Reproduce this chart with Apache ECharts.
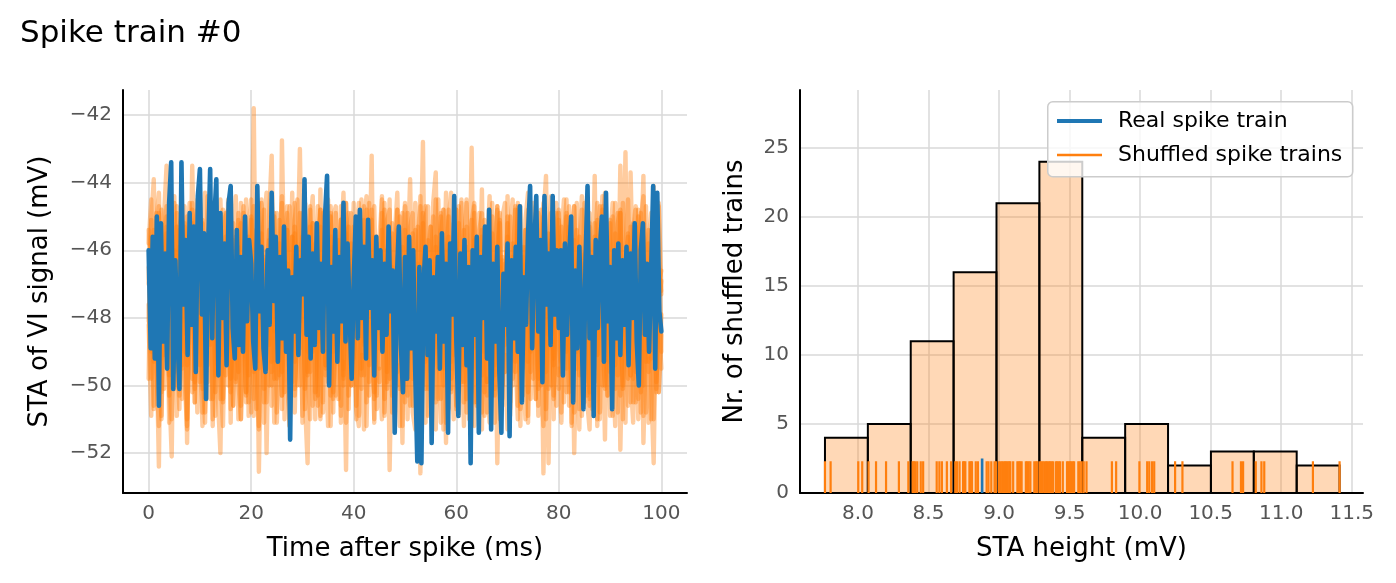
<!DOCTYPE html>
<html><head><meta charset="utf-8">
<script src="https://cdn.jsdelivr.net/npm/echarts@6/dist/echarts.min.js"></script>
<style>html,body{margin:0;padding:0;background:#fff}#c{width:1396px;height:583px}</style>
</head><body><div id="c"></div>
<script>
// ---------- data ----------
const realDt = 0.4;   // ms between samples, real trace
const shufDt = 0.5;   // ms between samples, shuffled traces
const realTrace = [
-46.0,-48.9,-45.6,-49.2,-45.0,-50.6,-45.2,-48.7,-46.1,-49.5,-44.6,-43.4,-50.1,-46.3,-48.4,-50.1,-43.4,-47.6,-45.7,-49.1,-44.9,-48.2,-45.3,-49.6,-44.4,
-43.6,-47.9,-45.5,-50.4,-46.0,-43.6,-48.6,-45.1,-43.9,-49.7,-44.9,-48.0,-45.8,-49.4,-44.6,-44.1,-48.3,-49.2,-45.4,-48.8,-46.2,-49.0,-45.0,-48.1,-45.7,
-46.4,-48.7,-49.5,-44.1,-47.8,-45.9,-48.9,-49.6,-46.0,-48.2,-44.3,-47.5,-45.6,-49.3,-46.2,-48.6,-45.3,-49.0,-46.6,-51.6,-46.8,-48.4,-45.9,-49.1,-46.3,
-47.3,-43.9,-48.5,-45.6,-49.2,-46.1,-48.8,-45.2,-48.3,-46.4,-49.0,-45.0,-43.8,-50.0,-46.5,-48.4,-45.4,-49.3,-46.2,-48.1,-44.6,-48.7,-45.8,-47.9,-49.8,
-46.9,-45.0,-48.6,-44.8,-48.0,-45.9,-49.2,-45.1,-47.7,-46.3,-49.7,-45.6,-48.3,-46.0,-49.0,-46.4,-48.5,-45.3,-47.8,-46.6,-51.4,-46.9,-45.3,-48.8,-50.2,
-46.2,-49.8,-45.6,-48.9,-46.0,-49.6,-52.25,-46.5,-52.3,-47.0,-45.9,-49.1,-46.3,-51.7,-46.8,-48.4,-46.2,-49.5,-45.5,-48.7,-46.4,-51.4,-45.8,-47.9,-44.4,
-48.6,-50.9,-46.1,-48.8,-45.7,-49.4,-46.5,-52.3,-46.0,-48.5,-45.6,-51.4,-46.2,-48.0,-45.3,-49.2,-44.8,-51.3,-46.4,-48.7,-45.9,-49.6,-51.4,-46.7,-48.2,
-45.8,-51.5,-46.3,-48.6,-45.9,-49.0,-44.7,-50.5,-46.8,-48.2,-45.5,-44.1,-48.9,-46.0,-44.4,-48.4,-45.7,-49.9,-44.4,-47.6,-46.1,-48.8,-44.4,-47.9,-46.0,
-48.3,-46.0,-49.7,-45.8,-48.5,-46.3,-45.0,-50.5,-46.6,-48.9,-45.9,-48.0,-50.7,-46.4,-44.1,-48.6,-46.2,-50.9,-45.7,-48.3,-46.0,-45.0,-49.3,-44.3,-48.1,
-46.5,-50.7,-46.0,-48.6,-45.8,-49.1,-46.3,-48.2,-45.9,-49.4,-46.1,-48.0,-45.2,-48.7,-50.0,-46.0,-45.2,-48.5,-46.4,-49.0,-46.7,-44.1,-49.5,-44.3,-47.8,-48.4
];
const shuffledA = [
-47.0,-45.2,-43.9,-48.6,-46.1,-49.2,-45.0,-43.5,-48.0,-46.4,-50.1,-45.3,-47.7,-44.6,-49.0,-46.2,-48.3,-43.5,-47.1,-45.8,
-49.4,-45.1,-47.9,-44.4,-48.8,-46.0,-50.2,-45.5,-47.3,-44.8,-48.5,-46.7,-49.8,-45.2,-47.6,-44.9,-48.9,-46.3,-50.5,-45.6,
-47.8,-41.8,-49.1,-45.7,-48.0,-46.2,-49.5,-45.0,-43.2,-48.4,-46.1,-49.7,-42.75,-47.2,-45.4,-48.6,-44.3,-49.3,-46.5,-43.0,
-48.1,-45.9,-49.6,-44.7,-47.5,-46.0,-50.3,-44.2,-48.2,-45.5,-47.9,-44.9,-49.0,-46.4,-48.5,-45.1,-50.0,-44.6,-47.4,-45.8,
-49.2,-45.3,-47.7,-44.5,-48.8,-46.2,-47.1,-43.2,-49.5,-45.6,-48.2,-44.4,-47.6,-46.0,-49.8,-45.2,-48.4,-44.8,-47.3,-45.9,
-49.0,-46.3,-43.9,-48.7,-45.4,-47.8,-46.6,-42.8,-49.3,-45.7,-48.1,-44.6,-43.7,-49.5,-46.2,-48.0,-44.3,-47.5,-45.8,-49.1,
-46.0,-48.6,-44.5,-49.4,-45.9,-47.7,-42.97,-48.9,-45.6,-47.3,-44.2,-49.0,-46.1,-48.3,-45.0,-50.1,-44.7,-47.9,-46.3,-48.8,
-44.4,-47.6,-45.8,-49.3,-44.6,-48.1,-46.2,-47.4,-44.8,-49.6,-45.5,-48.0,-46.6,-50.0,-45.1,-43.8,-48.5,-46.0,-49.2,-44.9,
-47.7,-45.6,-44.5,-49.0,-46.3,-48.2,-44.7,-47.5,-45.9,-49.4,-46.1,-48.6,-45.2,-47.8,-43.8,-49.1,-46.4,-44.4,-48.3,-45.7,
-49.6,-46.0,-44.6,-48.1,-43.5,-47.4,-43.1,-49.0,-43.7,-47.2,-45.3,-48.5,-46.2,-43.8,-49.3,-45.8,-47.6,-44.1,-48.9,-46.5,
-47.3
];
const shuffledB = [
-47.6,-49.8,-46.3,-48.4,-52.4,-45.9,-49.1,-46.7,-50.0,-52.1,-46.0,-48.7,-45.4,-49.5,-46.9,-51.7,-47.2,-45.8,-49.9,-46.5,
-48.9,-51.2,-46.1,-49.4,-45.7,-48.2,-46.8,-50.3,-52.0,-47.0,-45.6,-49.0,-46.4,-50.6,-47.3,-45.9,-51.0,-48.1,-46.6,-49.7,
-47.1,-50.4,-45.8,-52.55,-48.0,-46.3,-52.0,-47.5,-49.6,-45.9,-51.1,-48.3,-46.7,-50.2,-47.0,-49.4,-45.6,-50.8,-47.4,-48.9,
-46.2,-50.5,-52.3,-47.3,-49.0,-45.8,-48.6,-51.0,-46.9,-49.7,-47.4,-50.3,-45.9,-48.8,-46.5,-50.9,-47.8,-52.5,-46.4,-49.2,
-47.0,-50.7,-51.2,-46.6,-48.7,-45.8,-49.9,-47.5,-51.0,-46.2,-48.9,-47.3,-50.4,-46.0,-52.5,-48.1,-46.8,-50.0,-47.4,-51.7,
-46.5,-49.3,-47.0,-50.8,-51.3,-46.4,-52.6,-48.5,-46.9,-50.1,-47.6,-49.0,-45.9,-48.7,-51.1,-47.2,-51.7,-46.6,-49.5,-47.8,
-50.6,-46.3,-48.8,-51.2,-47.0,-49.4,-46.1,-50.5,-47.7,-48.6,-51.3,-46.8,-49.9,-47.2,-50.3,-46.5,-52.3,-48.0,-46.9,-49.6,
-47.4,-50.7,-46.2,-48.9,-51.0,-47.1,-49.5,-46.4,-50.2,-47.6,-48.8,-46.0,-49.8,-47.3,-52.6,-47.9,-52.3,-46.7,-49.4,-47.5,
-50.1,-46.3,-48.5,-47.0,-50.6,-46.8,-52.0,-48.2,-47.4,-49.7,-46.1,-50.4,-51.3,-47.2,-49.0,-46.6,-50.8,-47.8,-51.6,-46.9,
-49.3,-47.5,-50.1,-46.4,-51.9,-48.0,-47.1,-49.8,-46.7,-50.5,-47.9,-51.0,-46.3,-51.7,-48.6,-47.0,-49.9,-52.3,-47.4,-50.2,
-48.5
];
const shuffledC = [
-48.1,-45.6,-49.3,-46.8,-44.9,-50.2,-47.0,-45.3,-48.9,-46.1,-49.6,-44.7,-47.8,-50.4,-46.3,-45.0,-48.7,-49.8,-46.6,-44.5,
-47.5,-50.1,-45.8,-48.3,-46.9,-44.6,-49.7,-47.2,-45.4,-50.5,-46.7,-48.8,-44.8,-47.9,-49.9,-46.0,-45.2,-48.6,-50.2,-46.4,
-45.1,-48.0,-50.7,-46.2,-44.5,-49.2,-47.4,-45.7,-50.0,-46.9,-44.9,-48.5,-49.6,-46.3,-45.4,-50.4,-47.8,-44.6,-49.0,-46.8,
-45.6,-50.1,-47.1,-44.8,-48.9,-46.5,-50.6,-45.3,-47.7,-49.4,-46.0,-44.7,-48.2,-50.3,-46.6,-45.1,-49.5,-47.2,-44.9,-48.4,
-50.0,-46.4,-45.2,-48.8,-49.7,-46.1,-44.6,-47.9,-50.2,-45.8,-48.3,-46.7,-44.8,-49.9,-47.1,-45.5,-50.5,-46.2,-48.6,-44.9,
-47.4,-50.3,-45.7,-48.1,-49.6,-46.3,-44.7,-48.9,-50.1,-46.0,-45.3,-49.2,-47.5,-44.5,-48.4,-50.0,-46.6,-45.0,-49.3,-47.0,
-44.8,-49.9,-47.6,-45.4,-50.4,-46.5,-48.2,-44.9,-49.5,-47.1,-45.6,-50.2,-46.0,-48.7,-44.6,-49.4,-47.3,-45.2,-50.0,-46.4,
-48.5,-45.0,-49.8,-46.9,-44.7,-48.3,-50.3,-45.9,-47.4,-49.0,-45.3,-46.8,-50.1,-44.8,-48.0,-49.6,-46.2,-45.5,-50.4,-47.0,
-45.1,-49.3,-46.6,-44.9,-48.8,-50.0,-46.0,-45.4,-49.7,-47.3,-44.6,-48.4,-50.2,-46.5,-45.2,-49.1,-47.6,-44.7,-48.9,-50.3,
-46.2,-45.0,-49.4,-47.7,-44.9,-50.1,-46.4,-48.2,-45.3,-49.8,-47.0,-44.8,-48.6,-50.0,-46.1,-45.4,-49.2,-47.5,-45.7,-50.2,
-47.9
];
const shuffledD = [
-46.5,-49.0,-45.4,-47.9,-50.3,-44.8,-48.5,-46.2,-49.7,-45.1,-47.3,-50.0,-45.9,-48.1,-44.7,-49.4,-46.8,-45.2,-50.1,-47.6,
-45.0,-48.7,-49.9,-46.1,-44.8,-50.4,-47.0,-45.6,-49.1,-46.6,-44.9,-48.0,-50.2,-45.7,-47.8,-49.6,-44.6,-46.9,-48.4,-50.5,
-46.0,-44.7,-49.3,-47.6,-45.5,-50.1,-46.4,-48.8,-44.5,-49.8,-47.2,-45.8,-50.3,-46.3,-44.9,-48.6,-49.9,-45.3,-47.5,-50.0,
-46.8,-44.6,-49.0,-47.4,-45.2,-50.2,-46.1,-48.7,-44.9,-49.5,-47.0,-45.6,-50.4,-46.5,-48.2,-44.7,-49.7,-46.9,-45.3,-50.0,
-47.6,-45.1,-48.9,-50.1,-46.3,-44.8,-49.4,-47.2,-45.6,-50.3,-46.7,-48.1,-44.6,-49.6,-46.0,-47.8,-50.2,-45.4,-48.5,-46.9,
-44.7,-49.8,-47.3,-45.5,-50.0,-46.6,-48.4,-44.9,-49.2,-47.0,-45.3,-50.4,-46.2,-48.9,-45.0,-49.5,-47.4,-44.8,-50.1,-46.4,
-48.7,-45.2,-49.9,-46.7,-44.6,-48.3,-50.2,-45.7,-47.6,-49.1,-45.4,-46.9,-50.3,-44.8,-48.5,-49.7,-46.3,-45.1,-50.0,-47.3,
-45.6,-49.5,-46.5,-44.7,-48.6,-50.1,-45.9,-47.7,-49.3,-45.2,-46.8,-50.4,-44.9,-48.2,-49.8,-46.1,-45.5,-50.0,-47.1,-44.6,
-48.8,-49.6,-46.4,-45.0,-50.2,-47.5,-45.7,-49.0,-46.6,-44.8,-48.3,-50.3,-45.3,-47.9,-49.5,-46.0,-44.7,-48.9,-50.1,-46.7,
-45.2,-49.4,-47.2,-44.9,-48.6,-50.0,-46.3,-45.6,-49.7,-47.4,-44.8,-48.1,-50.2,-45.9,-47.6,-49.3,-46.5,-45.0,-49.9,-47.0,
-46.6
];
const shuffledE = [
-49.8,-45.1,-50.6,-46.0,-44.7,-50.9,-47.2,-45.5,-51.1,-46.4,-49.6,-44.9,-50.3,-47.7,-45.2,-51.0,-46.6,-44.6,-50.5,-47.0,
-45.7,-50.8,-46.2,-49.9,-44.8,-51.2,-47.4,-45.3,-50.4,-46.1,-49.7,-44.5,-50.7,-47.8,-45.6,-51.0,-46.5,-44.9,-50.2,-47.3,
-45.0,-50.9,-46.7,-49.5,-44.6,-51.1,-47.1,-45.4,-50.6,-46.3,-49.8,-45.1,-50.3,-47.5,-44.7,-51.2,-46.8,-45.5,-50.0,-47.6,
-44.9,-50.7,-46.0,-49.6,-45.2,-51.0,-47.3,-44.8,-50.5,-46.6,-49.9,-45.0,-50.8,-47.0,-45.7,-51.1,-46.2,-44.6,-50.3,-47.4,
-45.3,-50.6,-46.9,-49.7,-44.7,-51.2,-47.6,-45.1,-50.4,-46.4,-49.5,-44.9,-50.9,-47.2,-45.6,-50.8,-46.1,-44.8,-50.1,-47.8,
-45.4,-51.0,-46.5,-49.8,-44.6,-50.7,-47.0,-45.2,-51.1,-46.7,-49.6,-45.0,-50.5,-47.5,-44.9,-51.3,-46.3,-45.6,-50.2,-47.1,
-44.8,-50.9,-46.6,-49.9,-45.3,-51.0,-47.4,-44.7,-50.6,-46.2,-49.7,-45.1,-50.8,-47.7,-45.5,-51.1,-46.0,-44.9,-50.4,-47.3,
-45.2,-50.5,-46.8,-49.6,-44.8,-51.2,-47.1,-45.4,-50.9,-46.5,-49.8,-44.7,-50.6,-47.6,-45.0,-51.0,-46.4,-45.7,-50.3,-47.2,
-44.9,-50.8,-46.1,-49.5,-45.3,-51.1,-47.5,-44.6,-50.7,-46.9,-49.9,-45.2,-50.4,-47.0,-45.6,-51.2,-46.3,-44.8,-50.0,-47.7,
-45.1,-50.9,-46.7,-49.7,-44.9,-51.0,-47.3,-45.5,-50.5,-46.0,-49.6,-45.0,-50.8,-47.4,-44.7,-51.1,-46.6,-45.3,-50.2,-47.5,
-46.9
];
const shuffledF = [
-45.4,-47.5,-50.7,-44.9,-49.2,-51.0,-46.1,-45.0,-50.3,-47.9,-44.6,-50.9,-46.8,-49.4,-45.3,-51.2,-47.0,-44.8,-50.5,-46.3,
-49.9,-45.2,-50.8,-47.3,-44.7,-51.0,-46.6,-49.5,-45.5,-50.4,-47.6,-44.9,-51.1,-46.2,-49.8,-45.1,-50.6,-47.4,-44.5,-50.9,
-46.5,-49.6,-45.4,-51.2,-47.1,-44.8,-50.5,-46.9,-49.3,-45.0,-50.8,-47.7,-44.6,-51.0,-46.4,-49.9,-45.6,-50.3,-47.2,-44.9,
-51.1,-46.0,-49.7,-45.3,-50.6,-47.5,-44.7,-50.9,-46.7,-49.4,-45.2,-51.2,-47.0,-44.9,-50.4,-46.3,-49.8,-45.5,-50.7,-47.3,
-44.6,-51.0,-46.8,-49.5,-45.1,-50.5,-47.8,-44.8,-51.1,-46.1,-49.9,-45.4,-50.8,-47.2,-44.5,-50.3,-46.6,-49.6,-45.0,-51.2,
-47.4,-44.9,-50.6,-46.2,-49.7,-45.3,-51.0,-47.0,-44.7,-50.9,-46.5,-49.4,-45.6,-50.4,-47.6,-44.8,-51.1,-46.0,-49.8,-45.2,
-50.7,-47.1,-44.6,-50.5,-46.9,-49.5,-45.1,-51.2,-47.3,-44.9,-50.8,-46.4,-49.9,-45.5,-50.3,-47.7,-44.7,-51.0,-46.2,-49.6,
-45.0,-50.9,-47.5,-44.8,-50.6,-46.7,-49.3,-45.4,-51.1,-47.0,-44.6,-50.4,-46.3,-49.8,-45.2,-50.7,-47.4,-44.9,-51.0,-46.1,
-49.7,-45.3,-50.5,-47.2,-44.7,-51.2,-46.8,-49.5,-45.6,-50.9,-47.6,-44.5,-50.6,-46.4,-49.9,-45.1,-51.0,-47.1,-44.8,-50.3,
-46.6,-49.4,-45.5,-50.8,-47.3,-44.6,-51.1,-46.0,-49.7,-45.2,-50.5,-47.8,-44.9,-50.9,-46.5,-49.6,-45.4,-51.0,-47.0,-44.7,
-49.0
];
const shuffledG = [
-48.2,-50.9,-46.4,-49.6,-51.2,-47.3,-50.1,-46.8,-49.3,-51.0,-47.5,-48.9,-50.7,-46.6,-49.8,-51.3,-47.1,-50.2,-48.0,-50.8,
-46.9,-49.5,-51.1,-47.6,-50.4,-48.3,-50.9,-46.5,-49.7,-51.2,-47.4,-50.0,-48.6,-50.6,-47.0,-49.9,-51.0,-46.7,-50.3,-48.1,
-50.8,-47.2,-49.4,-51.3,-46.8,-50.5,-48.4,-50.0,-47.5,-51.1,-49.2,-46.6,-50.7,-48.0,-49.8,-51.2,-47.3,-50.1,-48.7,-46.9,
-50.9,-48.2,-49.6,-51.0,-47.1,-50.4,-48.5,-46.7,-50.8,-49.0,-51.2,-47.4,-50.2,-48.8,-46.6,-50.6,-49.3,-51.1,-47.7,-50.0,
-48.4,-46.8,-50.9,-49.1,-51.3,-47.2,-50.3,-48.6,-46.9,-50.7,-49.5,-51.0,-47.6,-50.1,-48.2,-46.5,-50.8,-49.4,-51.2,-47.0,
-50.5,-48.9,-46.7,-50.6,-49.7,-51.1,-47.3,-50.0,-48.5,-46.8,-50.9,-49.2,-51.3,-47.5,-50.4,-48.1,-46.6,-50.7,-49.6,-51.0,
-47.4,-50.2,-48.7,-46.9,-50.8,-49.3,-51.2,-47.0,-50.5,-48.4,-46.7,-50.9,-49.8,-51.1,-47.6,-50.3,-48.8,-46.5,-50.6,-49.1,
-51.3,-47.2,-50.0,-48.6,-46.8,-50.7,-49.4,-51.0,-47.5,-50.4,-48.3,-46.6,-50.9,-49.7,-51.2,-47.1,-50.1,-48.9,-46.9,-50.6,
-49.5,-51.1,-47.3,-50.2,-48.5,-46.7,-50.8,-49.0,-51.3,-47.6,-50.5,-48.2,-46.8,-50.7,-49.6,-51.0,-47.4,-50.0,-48.7,-46.6,
-50.9,-49.3,-51.2,-47.1,-50.3,-48.4,-46.9,-50.6,-49.8,-51.1,-47.7,-50.4,-48.6,-46.7,-50.8,-49.2,-51.0,-47.2,-50.1,-48.0,
-49.5
];
const shuffledH = [
-45.8,-44.5,-47.6,-45.1,-44.3,-47.9,-45.6,-44.7,-47.2,-46.0,-44.4,-47.8,-45.3,-44.9,-47.5,-45.9,-44.6,-48.0,-45.2,-44.8,
-47.4,-45.7,-44.3,-47.7,-45.4,-44.6,-48.0,-46.1,-44.5,-47.3,-45.0,-44.8,-47.9,-45.5,-44.4,-47.6,-46.2,-44.7,-47.1,-45.3,
-44.5,-47.8,-45.9,-44.6,-47.5,-45.2,-44.3,-48.0,-45.7,-44.9,-47.2,-46.0,-44.4,-47.9,-45.4,-44.7,-47.6,-45.1,-44.5,-47.3,
-45.8,-44.6,-47.7,-45.3,-44.4,-48.0,-45.6,-44.8,-47.4,-46.1,-44.5,-47.9,-45.0,-44.7,-47.5,-45.9,-44.3,-47.8,-45.4,-44.9,
-47.2,-45.5,-44.6,-47.9,-45.2,-44.4,-47.6,-46.0,-44.7,-48.0,-45.7,-44.5,-47.3,-45.1,-44.8,-47.8,-45.6,-44.3,-47.4,-45.9,
-44.6,-47.7,-45.3,-44.9,-48.0,-45.8,-44.4,-47.5,-45.0,-44.7,-47.9,-46.2,-44.5,-47.2,-45.5,-44.8,-47.6,-45.1,-44.3,-47.8,
-45.6,-44.7,-47.4,-45.9,-44.5,-48.0,-45.2,-44.6,-47.7,-45.4,-44.9,-47.3,-46.1,-44.4,-47.9,-45.7,-44.8,-47.5,-45.0,-44.6,
-47.8,-45.3,-44.5,-47.6,-45.8,-44.7,-48.0,-45.1,-44.3,-47.4,-46.0,-44.9,-47.9,-45.5,-44.6,-47.2,-45.9,-44.4,-47.7,-45.2,
-44.8,-47.5,-45.6,-44.5,-47.9,-45.3,-44.7,-48.0,-45.8,-44.4,-47.3,-45.0,-44.9,-47.7,-46.2,-44.6,-47.4,-45.4,-44.3,-47.8,
-45.7,-44.6,-47.6,-45.2,-44.8,-47.9,-45.9,-44.5,-47.3,-45.4,-44.7,-48.0,-45.1,-44.4,-47.5,-45.8,-44.9,-47.7,-45.3,-44.6,
-47.2
];
// STA heights (mV) of the 100 shuffled trains (rug marks)
const shuffledHeights = [
7.766,7.806,8.002,8.030,
8.075,8.128,8.199,8.290,8.357,
8.388,8.395,8.405,8.420,8.445,8.462,8.558,8.577,8.595,8.630,8.660,
8.690,8.702,8.720,8.745,8.752,8.761,8.790,8.800,8.808,8.835,8.850,8.912,8.925,8.945,8.968,8.978,
9.000,9.010,9.022,9.032,9.043,9.052,9.061,9.072,9.080,9.100,9.130,9.140,9.150,9.160,9.190,9.200,9.210,9.222,9.250,9.262,9.272,
9.290,9.300,9.310,9.322,9.333,9.342,9.352,9.362,9.372,9.382,9.402,9.412,9.422,9.432,9.452,9.482,9.492,9.502,9.512,9.522,9.532,9.562,9.572,9.585,
9.600,9.620,9.800,9.830,
9.995,10.050,10.065,10.085,10.100,
10.248,10.300,
10.655,10.715,10.730,
10.820,10.860,10.880,
11.225,11.414
];
const realHeight = 8.88;
const histCounts = [4, 5, 11, 16, 21, 24, 4, 5, 2, 3, 3, 2];

// ---------- build ----------
const FONT = 'DejaVu Sans';
const BLUE = '#1f77b4', ORANGE = '#ff7f0e';
const toXY = (arr, dt) => arr.map((v, i) => [i * dt, v]);
const hLo = Math.min(...shuffledHeights), hHi = Math.max(...shuffledHeights);
const bw = (hHi - hLo) / histCounts.length;
const histData = histCounts.map((c, i) => [hLo + i * bw, hLo + (i + 1) * bw, c]);

const minus = s => String(s).replace('-', '\u2212');
const isMult = (v, s) => Math.abs(v / s - Math.round(v / s)) < 1e-6;

const tickLabel = { fontFamily: FONT, fontSize: 20, color: '#555555' };
const nameStyle = { fontFamily: FONT, fontSize: 26, color: '#000000' };
const splitL = { show: true, showMinLine: false, showMaxLine: false, lineStyle: { color: '#d9d9d9', width: 1.5 } };
const axLine = { show: true, onZero: false, lineStyle: { color: '#000', width: 2 } };

const lineSeries = (name, data, dt, color, opacity, w) => ({
  type: 'line', name, xAxisIndex: 0, yAxisIndex: 0, data: toXY(data, dt),
  showSymbol: false, symbol: 'none', sampling: 'none', silent: true,
  lineStyle: { color, width: w, opacity, cap: 'round', join: 'round' },
  itemStyle: { color }
});

const RUG_H = 2.3, RUG_H_REAL = 2.5;
const rugSeries = (name, vals, color, h, w) => ({
  type: 'custom', name, xAxisIndex: 1, yAxisIndex: 1,
  data: vals.map(v => [v]), encode: { x: 0 }, silent: true,
  itemStyle: { color },
  renderItem: (params, api) => {
    const p0 = api.coord([api.value(0), 0]);
    const p1 = api.coord([api.value(0), h]);
    return { type: 'line', shape: { x1: p0[0], y1: p0[1], x2: p1[0], y2: p1[1] },
      style: { stroke: color, lineWidth: w } };
  }
});

const shuffledTraces = [shuffledA, shuffledB, shuffledC, shuffledD, shuffledE, shuffledF, shuffledG, shuffledH];

const option = {
  animation: false,
  backgroundColor: '#ffffff',
  title: { text: 'Spike train #0', left: 15, top: 13,
    textStyle: { fontFamily: FONT, fontSize: 31, fontWeight: 'normal', color: '#000' } },
  grid: [
    { left: 123, top: 90, width: 564, height: 403, outerBoundsMode: 'none', containLabel: false },
    { left: 800, top: 90, width: 563, height: 403, outerBoundsMode: 'none', containLabel: false }
  ],
  xAxis: [
    { type: 'value', gridIndex: 0, min: -5, max: 105, splitNumber: 5,
      name: 'Time after spike (ms)', nameLocation: 'middle', nameGap: 43, nameTextStyle: nameStyle, nameMoveOverlap: false,
      axisLine: axLine, axisTick: { show: false }, splitLine: splitL,
      axisLabel: Object.assign({ margin: 11, showMinLabel: false, showMaxLabel: false,
        formatter: v => isMult(v, 20) ? minus(Math.round(v)) : '' }, tickLabel) },
    { type: 'value', gridIndex: 1, min: 7.589, max: 11.58, splitNumber: 8,
      name: 'STA height (mV)', nameLocation: 'middle', nameGap: 43, nameTextStyle: nameStyle, nameMoveOverlap: false,
      axisLine: axLine, axisTick: { show: false }, splitLine: splitL,
      axisLabel: Object.assign({ margin: 11, showMinLabel: false, showMaxLabel: false,
        formatter: v => isMult(v, 0.5) ? v.toFixed(1) : '' }, tickLabel) }
  ],
  yAxis: [
    { type: 'value', gridIndex: 0, min: -53.18, max: -41.26, splitNumber: 5,
      name: 'STA of VI signal (mV)', nameLocation: 'middle', nameGap: 70, nameRotate: 90, nameTextStyle: nameStyle, nameMoveOverlap: false,
      axisLine: axLine, axisTick: { show: false }, splitLine: splitL,
      axisLabel: Object.assign({ margin: 11, showMinLabel: false, showMaxLabel: false,
        formatter: v => isMult(v, 2) ? minus(Math.round(v)) : '' }, tickLabel) },
    { type: 'value', gridIndex: 1, min: 0, max: 29.2, interval: 5,
      name: 'Nr. of shuffled trains', nameLocation: 'middle', nameGap: 52, nameRotate: 90, nameTextStyle: nameStyle, nameMoveOverlap: false,
      axisLine: axLine, axisTick: { show: false }, splitLine: splitL,
      axisLabel: Object.assign({ margin: 11, showMaxLabel: false,
        formatter: v => isMult(v, 5) ? String(Math.round(v)) : '' }, tickLabel) }
  ],
  legend: [
    { data: ['Real spike train'], left: 1057, top: 110, orient: 'vertical', padding: 0, z: 60,
      icon: 'rect', itemWidth: 45, itemHeight: 4, selectedMode: false,
      textStyle: { fontFamily: FONT, fontSize: 22, color: '#000', padding: [0, 0, 0, 11] } },
    { data: ['Shuffled spike trains'], left: 1057, top: 144, orient: 'vertical', padding: 0, z: 60,
      icon: 'rect', itemWidth: 45, itemHeight: 2.5, selectedMode: false,
      textStyle: { fontFamily: FONT, fontSize: 22, color: '#000', padding: [0, 0, 0, 11] } }
  ],
  graphic: [
    { type: 'rect', left: 1047, top: 101, z: 50, silent: true,
      shape: { width: 305, height: 75, r: 5 },
      style: { fill: 'rgba(255,255,255,0.8)', stroke: '#cccccc', lineWidth: 1.5 } }
  ],
  series: [
    ...shuffledTraces.map((tr, k) => lineSeries('shuffled ' + k, tr, shufDt, ORANGE, 0.4, 4.4)),
    lineSeries('real trace', realTrace, realDt, BLUE, 1, 4.6),
    { type: 'custom', name: 'histogram', xAxisIndex: 1, yAxisIndex: 1, data: histData,
      encode: { x: [0, 1], y: 2 }, silent: true,
      renderItem: (params, api) => {
        const a = api.coord([api.value(0), api.value(2)]);
        const b = api.coord([api.value(1), 0]);
        return { type: 'rect', shape: { x: a[0], y: a[1], width: b[0] - a[0], height: b[1] - a[1] },
          style: { fill: 'rgba(255,127,14,0.3)', stroke: '#000', lineWidth: 2 } };
      } },
    rugSeries('Shuffled spike trains', shuffledHeights, ORANGE, RUG_H, 2.2),
    rugSeries('Real spike train', [realHeight], BLUE, RUG_H_REAL, 2.6)
  ]
};
const chart = echarts.init(document.getElementById('c'), null, { renderer: 'canvas' });
chart.setOption(option);
</script>
</body></html>
